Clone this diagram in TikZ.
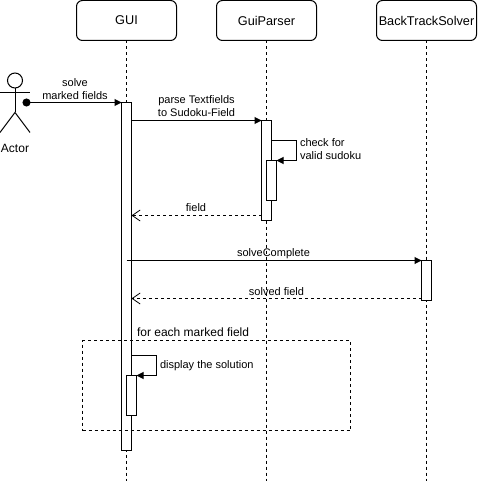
\documentclass[tikz,border=0pt]{standalone}
\usepackage{fontspec}
\setmainfont{Liberation Sans}
\usetikzlibrary{arrows.meta, calc}

\begin{document}
\begin{tikzpicture}[x=1pt, y=-1pt, line width=1pt, every node/.style={outer sep=0pt, inner sep=0pt}]
	\tikzstyle{object}=[
		draw,
		rounded corners=6pt,
		minimum width=100pt,
		minimum height=40pt,
		font=\fontsize{12.7}{15}\selectfont
	]
	\tikzstyle{activation}=[
		draw,
		fill=white,
		anchor=north,
		minimum width=10pt
	]
	\tikzstyle{lifeline}=[dash pattern=on 3pt off 3pt]
	\tikzstyle{call}=[-{Triangle[length=7pt, width=7pt]}]
	\tikzstyle{reply}=[dash pattern=on 3pt off 3pt, -{Straight Barb[length=8pt, width=11pt, line width=0.8pt]}]
	\tikzstyle{label}=[font=\fontsize{11}{13}\selectfont, align=center]
	
	\useasboundingbox (0,0) rectangle (477,481);
	
	\node (gui) at (126.5,20.5) [object] {GUI};
	\node (parser) at (266.5,20.5) [object] {GuiParser};
	\node (solver) at (426.5,20.5) [object] {BackTrackSolver};
	
	\coordinate (guiEnd) at (126.5,481);
	\coordinate (parserEnd) at (266.5,481);
	\coordinate (solverEnd) at (426.5,481);
	\draw [lifeline] (gui.south) -- (guiEnd);
	\draw [lifeline] (parser.south) -- (parserEnd);
	\draw [lifeline] (solver.south) -- (solverEnd);
	
	\node (guiAct) at (126.5,102.5) [activation, minimum height=348pt] {};
	\node (parserAct) at (266.5,120.5) [activation, minimum height=100pt] {};
	\node (checkAct) at (271.5,160.5) [activation, minimum height=40pt] {};
	\node (solverAct) at (426.5,260.5) [activation, minimum height=40pt] {};
	\node (displayAct) at (131.5,375.5) [activation, minimum height=40pt] {};
	
	% actor
	\node (head) at (15,80.5) [draw, circle, minimum size=15pt] {};
	\coordinate (hip) at (15,112.5);
	\draw (head.south) -- (hip);
	\draw (0,92.5) -- (30,92.5);
	\draw (0,132.5) -- (hip) -- (30,132.5);
	\node (actor) at (15,148) [font=\fontsize{12}{14}\selectfont] {Actor};
	
	% messages
	\node (start) at (26.5,102.5) [draw, fill=black, circle, minimum size=7pt] {};
	\draw [call] (start) -- (guiAct.north west);
	\node (solveLabel) at (75,89) [label] {solve\\marked fields};
	
	\draw [call] ($(guiAct.north east)+(0,18)$) -- (parserAct.north west);
	\node (parseLabel) at (196.5,106.5) [label] {parse Textfields\\to Sudoku-Field};
	
	\draw [call] ($(parserAct.north east)+(0,20)$) -| ($(checkAct.north east)+(20,0)$) -- (checkAct.north east);
	\node (checkLabel) at (300,149.5) [label, anchor=west, align=left] {check for\\valid sudoku};
	
	\draw [reply] ($(parserAct.south west)+(0,-5)$) -- ($(guiAct.north east)+(0,113)$);
	\node (fieldLabel) at (196,208) [label] {field};
	
	\draw [call] ($(guiAct.north)+(0,158)$) -- (solverAct.north west);
	\node (completeLabel) at (273.5,254) [label] {solveComplete};
	
	\draw [reply] ($(solverAct.south west)+(0,-2)$) -- ($(guiAct.north east)+(0,196)$);
	\node (solvedLabel) at (276.5,291.5) [label] {solved field};
	
	% loop frame
	\node (frame) at (216.5,385.5) [draw, dash pattern=on 3pt off 3pt, minimum width=268pt, minimum height=90pt] {};
	\node (frameLabel) at (137,332) [anchor=west, font=\fontsize{12}{14}\selectfont] {for each marked field};
	
	\draw [call] ($(guiAct.north east)+(0,253)$) -| ($(displayAct.north east)+(20,0)$) -- (displayAct.north east);
	\node (displayLabel) at (160,365.5) [label, anchor=west] {display the solution};
\end{tikzpicture}
\end{document}
